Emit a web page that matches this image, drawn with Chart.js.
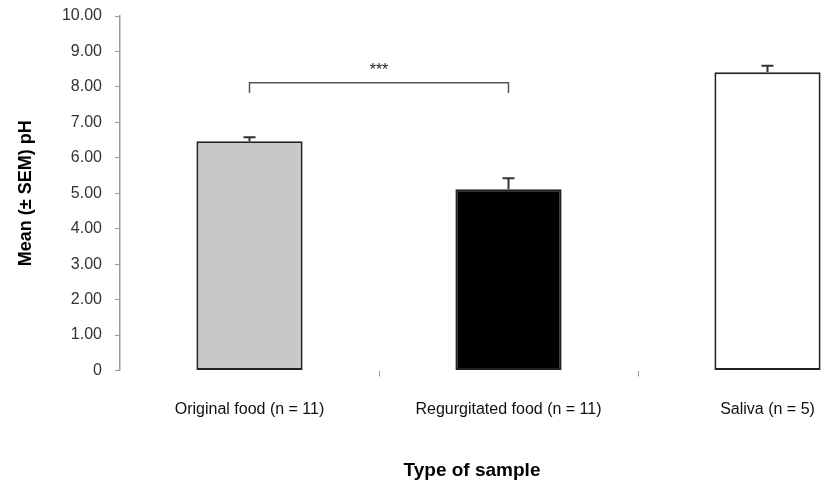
<!DOCTYPE html>
<html>
<head>
<meta charset="utf-8">
<script src="https://cdn.jsdelivr.net/npm/chart.js@4.4.1/dist/chart.umd.min.js"></script>
<style>
  html, body { margin: 0; padding: 0; background: #fff; overflow: hidden; }
  #wrap { width: 829px; height: 485px; overflow: hidden; }
</style>
</head>
<body>
<div id="wrap"><canvas id="c" width="900" height="485"></canvas></div>
<script>
// pH of food samples vs saliva — bars = mean, whiskers = +SEM

const categories = ['Original food (n = 11)', 'Regurgitated food (n = 11)', 'Saliva (n = 5)'];
const means = [6.47, 5.11, 8.41];
const sems = [0.11, 0.31, 0.19];
const barColours = ['#c8c8c8', '#000000', '#ffffff'];
const yTicks = [0, 1, 2, 3, 4, 5, 6, 7, 8, 9, 10];

// significance bracket between the first two bars
const sigPair = [0, 1];
const sigLevel = 8.12;   // top of bracket
const sigLegBottom = 7.83;
const sigLabel = '***';

const yTitle = 'Mean (\u00b1 SEM) pH';
const xTitle = 'Type of sample';

const FONT = '"Liberation Sans", Arial, sans-serif';

const extras = {
  id: 'extras',
  afterDatasetsDraw(chart) {
    const { ctx, scales: { x, y } } = chart;
    ctx.save();

    // error bars (upper only)
    ctx.strokeStyle = '#333';
    ctx.lineWidth = 2;
    means.forEach((m, i) => {
      const cx = x.getPixelForValue(i);
      const y0 = y.getPixelForValue(m);
      const y1 = y.getPixelForValue(m + sems[i]);
      ctx.beginPath();
      ctx.moveTo(cx, y0);
      ctx.lineTo(cx, y1);
      ctx.moveTo(cx - 6, y1);
      ctx.lineTo(cx + 6, y1);
      ctx.stroke();
    });

    // bracket + stars
    const xa = x.getPixelForValue(sigPair[0]);
    const xb = x.getPixelForValue(sigPair[1]);
    const yt = y.getPixelForValue(sigLevel);
    const yl = y.getPixelForValue(sigLegBottom);
    ctx.strokeStyle = '#555';
    ctx.lineWidth = 1.5;
    ctx.beginPath();
    ctx.moveTo(xa, yl);
    ctx.lineTo(xa, yt);
    ctx.lineTo(xb, yt);
    ctx.lineTo(xb, yl);
    ctx.stroke();
    ctx.fillStyle = '#222';
    ctx.font = '16px ' + FONT;
    ctx.textAlign = 'center';
    ctx.textBaseline = 'middle';
    ctx.fillText(sigLabel, (xa + xb) / 2, yt - 12);

    // axis titles
    ctx.fillStyle = '#000';
    ctx.font = 'bold 19px ' + FONT;
    ctx.fillText(xTitle, 472, 471);
    ctx.font = 'bold 18px ' + FONT;
    ctx.translate(26, (y.top + y.bottom) / 2);
    ctx.rotate(-Math.PI / 2);
    ctx.fillText(yTitle, 0, 0);
    ctx.restore();
  }
};

new Chart(document.getElementById('c'), {
  type: 'bar',
  data: {
    labels: categories,
    datasets: [{
      data: means,
      backgroundColor: barColours,
      borderColor: '#222',
      borderWidth: 2,
      borderSkipped: false,
      categoryPercentage: 1,
      barPercentage: 0.41,
    }],
  },
  options: {
    responsive: false,
    devicePixelRatio: 1,
    animation: false,
    layout: { padding: { top: 16, right: 3, left: 0, bottom: 0 } },
    plugins: { legend: { display: false }, tooltip: { enabled: false } },
    scales: {
      x: {
        afterFit: (s) => { s.height = 114.5; s.paddingLeft = 0; s.paddingRight = 0; },
        border: { display: false },
        grid: {
          drawOnChartArea: false,
          tickLength: 6,
          color: (c) => (c.index === 0 ? 'rgba(0,0,0,0)' : '#999'),
        },
        ticks: { color: '#111', padding: 23, font: { family: FONT, size: 16 } },
      },
      y: {
        min: 0,
        max: 10,
        afterFit: (s) => { s.width = 120; s.paddingTop = 0; s.paddingBottom = 0; },
        afterBuildTicks: (s) => { s.ticks = yTicks.map(v => ({ value: v })); },
        border: { display: true, color: '#999', width: 1.5 },
        grid: { drawOnChartArea: false, tickLength: 5, color: '#999' },
        ticks: {
          color: '#333',
          padding: 13,
          font: { family: FONT, size: 16 },
          callback: (v) => (v === 0 ? '0' : v.toFixed(2)),
        },
      },
    },
  },
  plugins: [extras],
});
</script>
</body>
</html>
